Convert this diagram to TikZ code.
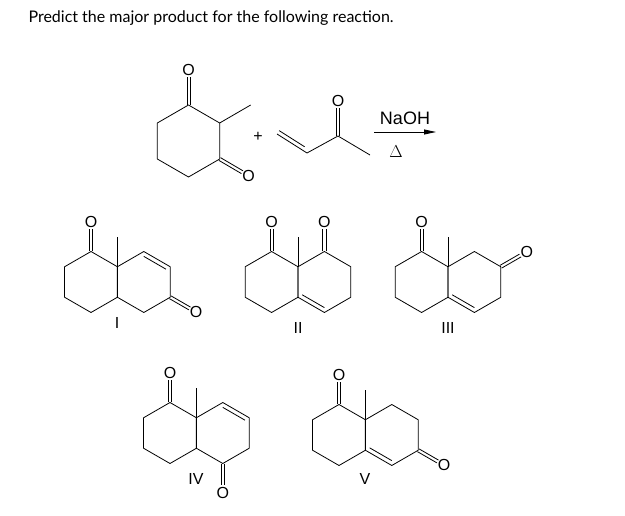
\documentclass[tikz,border=0pt]{standalone}
\usepackage{fontspec}
\setmainfont{Liberation Sans}
\newfontfamily\latofont{Lato}
\usetikzlibrary{calc,arrows.meta}
\newcommand\hexring[4]{%
  \coordinate (#1) at (#2,#3);
  \coordinate (#1-1) at (#2,{#3-#4});
  \coordinate (#1-2) at ({#2+0.866*#4},{#3-0.5*#4});
  \coordinate (#1-3) at ({#2+0.866*#4},{#3+0.5*#4});
  \coordinate (#1-4) at (#2,{#3+#4});
  \coordinate (#1-5) at ({#2-0.866*#4},{#3+0.5*#4});
  \coordinate (#1-6) at ({#2-0.866*#4},{#3-0.5*#4});
  \draw[bond] (#1-1)--(#1-2)--(#1-3)--(#1-4)--(#1-5)--(#1-6)--cycle;}
\newcommand\inb[3]{\draw[bond] ($(#1)!0.16!(#3)$) -- ($(#2)!0.16!(#3)$);}
\newcommand\dbo[2]{%
  \draw[bond,shorten >=7.5pt] ($(#1)!1.6pt!90:(#2)$) -- ($(#2)!1.6pt!-90:(#1)$);
  \draw[bond,shorten >=7.5pt] ($(#1)!1.6pt!-90:(#2)$) -- ($(#2)!1.6pt!90:(#1)$);}
\begin{document}
\begin{tikzpicture}[x=1pt,y=-1pt,
  bond/.style={line width=0.8pt,line join=round},
  atom/.style={font=\fontsize{16}{16}\selectfont,inner sep=0pt},
  lab/.style={font=\fontsize{16}{16}\selectfont,inner sep=0pt}]
\useasboundingbox (0,0) rectangle (625,516);
\node[anchor=west,font=\latofont\fontsize{16}{16}\selectfont] (title) at (25,18) {Predict the major product for the following reaction.};
% starting material
\hexring{S}{188.5}{141}{36}
\node[atom] (So1) at ($(S-1)+(0,-35)$) {O};
\dbo{S-1}{So1}
\coordinate (Sme) at ($(S-2)+(31,-18)$);
\draw[bond] (S-2)--(Sme);
\node[atom] (So2) at ($(S-3)+(29,17)$) {O};
\dbo{S-3}{So2}
\node[lab] (plus) at (258,137) {+};
% MVK
\coordinate (m1) at (277,134);
\coordinate (m2) at (307,153);
\coordinate (m3) at (338,136);
\coordinate (m4) at (370,155);
\node[atom] (mo) at (338,101) {O};
\draw[bond] (m1)--(m2)--(m3)--(m4);
\draw[bond] ($(m1)!4pt!90:(m2)$) -- ($(m2)!0.15!(m1)!4pt!-90:(m1)$);
\dbo{m3}{mo}
% arrow
\coordinate (a1) at (374,132);
\coordinate (a2) at (436,132);
\draw[bond,-{Triangle[length=12pt,width=5pt]}] (a1)--(a2);
\node[lab,font=\fontsize{18}{18}\selectfont] (naoh) at (405,118) {NaOH};
\node[lab] (delta) at (396,152) {$\Delta$};
% I
\hexring{IA}{91}{282}{30.5}
\hexring{IB}{143.8}{282}{30.5}
\node[atom] (Io1) at ($(IA-1)+(0,-30)$) {O};
\dbo{IA-1}{Io1}
\coordinate (Ime) at ($(IA-2)+(0,-30)$);
\draw[bond] (IA-2)--(Ime);
\inb{IB-1}{IB-2}{IB}
\node[atom] (Io2) at ($(IB-3)+(26,15)$) {O};
\dbo{IB-3}{Io2}
\node[lab] (LI) at (117,323) {I};
% II
\hexring{IIA}{271.6}{282}{30.5}
\hexring{IIB}{324.4}{282}{30.5}
\node[atom] (IIo1) at ($(IIA-1)+(0,-30)$) {O};
\dbo{IIA-1}{IIo1}
\node[atom] (IIo2) at ($(IIB-1)+(0,-30)$) {O};
\dbo{IIB-1}{IIo2}
\coordinate (IIme) at ($(IIA-2)+(0,-30)$);
\draw[bond] (IIA-2)--(IIme);
\inb{IIB-5}{IIB-4}{IIB}
\node[lab] (LII) at (298,328) {II};
% III
\hexring{IIIA}{421.6}{282}{30.5}
\hexring{IIIB}{474.4}{282}{30.5}
\node[atom] (IIIo1) at ($(IIIA-1)+(0,-30)$) {O};
\dbo{IIIA-1}{IIIo1}
\coordinate (IIIme) at ($(IIIA-2)+(0,-30)$);
\draw[bond] (IIIA-2)--(IIIme);
\node[atom] (IIIo2) at ($(IIIB-2)+(26,-15)$) {O};
\dbo{IIIB-2}{IIIo2}
\inb{IIIB-5}{IIIB-4}{IIIB}
\node[lab] (LIII) at (448,328) {III};
% IV
\hexring{IVA}{170}{433}{30.5}
\hexring{IVB}{222.8}{433}{30.5}
\node[atom] (IVo1) at ($(IVA-1)+(0,-30)$) {O};
\dbo{IVA-1}{IVo1}
\coordinate (IVme) at ($(IVA-2)+(0,-30)$);
\draw[bond] (IVA-2)--(IVme);
\inb{IVB-1}{IVB-2}{IVB}
\node[atom] (IVo2) at ($(IVB-4)+(0,29)$) {O};
\dbo{IVB-4}{IVo2}
\node[lab] (LIV) at (196,479) {IV};
% V
\hexring{VA}{339}{435}{30.5}
\hexring{VB}{391.8}{435}{30.5}
\node[atom] (Vo1) at ($(VA-1)+(0,-30)$) {O};
\dbo{VA-1}{Vo1}
\coordinate (Vme) at ($(VA-2)+(0,-30)$);
\draw[bond] (VA-2)--(Vme);
\inb{VB-5}{VB-4}{VB}
\node[atom] (Vo2) at ($(VB-3)+(26,15)$) {O};
\dbo{VB-3}{Vo2}
\node[lab] (LV) at (365,479) {V};
\end{tikzpicture}
\end{document}
